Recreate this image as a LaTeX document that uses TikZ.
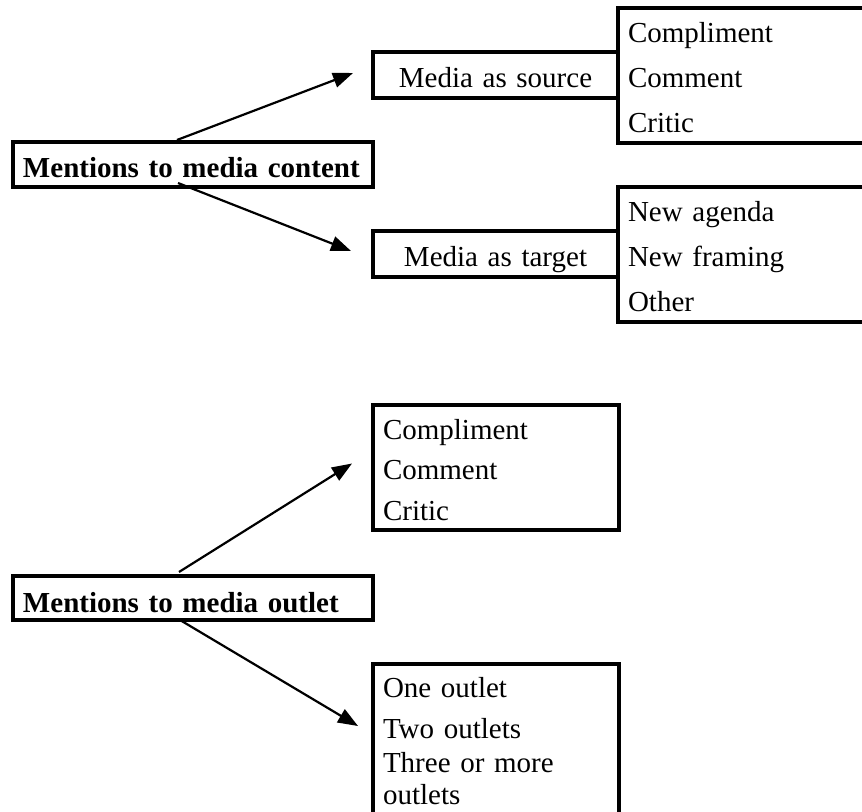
\documentclass[tikz,border=0pt]{standalone}
\usepackage{fontspec}
\setmainfont{Liberation Serif}
\usetikzlibrary{arrows.meta}

\begin{document}
\begin{tikzpicture}[x=0.5pt, y=-0.5pt,
    box/.style={draw, line width=1.75pt, inner xsep=5pt, inner ysep=0pt, outer sep=0pt, anchor=north west},
    mention/.style={box, font=\fontsize{14.5}{17}\selectfont\bfseries, align=left, text width=170pt, text height=18pt, text depth=4.5pt},
    role/.style={box, font=\fontsize{14.5}{17}\selectfont, align=center, text width=112.5pt, text height=18pt, text depth=5pt},
    kinds/.style={box, font=\fontsize{14.5}{22.5}\selectfont, align=left, text width=140pt, text height=17.5pt, text depth=50pt},
    outletkinds/.style={box, font=\fontsize{14.5}{20}\selectfont, align=left, text width=113pt, text height=17.5pt, text depth=45pt},
    arr/.style={-{Triangle[length=10pt, width=7.5pt]}, line width=1.1pt}
    ]

    \useasboundingbox (0,0) rectangle (862,812);

    % media content
    \node[mention] (content) at (13,142) {Mentions to media content};
    \node[role] (source) at (373,52) {Media as source};
    \node[role] (target) at (373,231) {Media as target};
    \node[kinds] (sourcekinds) at (618,8) {Compliment\\Comment\\Critic};
    \node[kinds] (targetkinds) at (618,187) {New agenda\\New framing\\Other};

    \draw[arr] ([xshift=-8pt,yshift=1pt]content.north) -- ([xshift=-10pt,yshift=1pt]source.west);
    \draw[arr] ([xshift=-7.5pt,yshift=2pt]content.south) -- ([xshift=-11pt,yshift=1.5pt]target.west);

    % media outlet
    \node[mention, text depth=4pt] (outlet) at (13,576) {Mentions to media outlet};
    \node[outletkinds] (outlettone) at (373,405) {Compliment\\Comment\\Critic};
    \node[outletkinds, font=\fontsize{14.5}{16}\selectfont, text height=16.5pt, text depth=75pt] (outletcount) at (373,664)
        {One outlet\\[4.5pt]Two outlets\\[1pt]Three or more\\outlets};

    \draw[arr] ([xshift=-7pt,yshift=2pt]outlet.north) -- ([xshift=-10.5pt,yshift=2pt]outlettone.west);
    \draw[arr] ([xshift=-6.5pt]outlet.south) -- ([xshift=-7.5pt,yshift=-31pt]outletcount.north west);
    %
\end{tikzpicture}
\end{document}
